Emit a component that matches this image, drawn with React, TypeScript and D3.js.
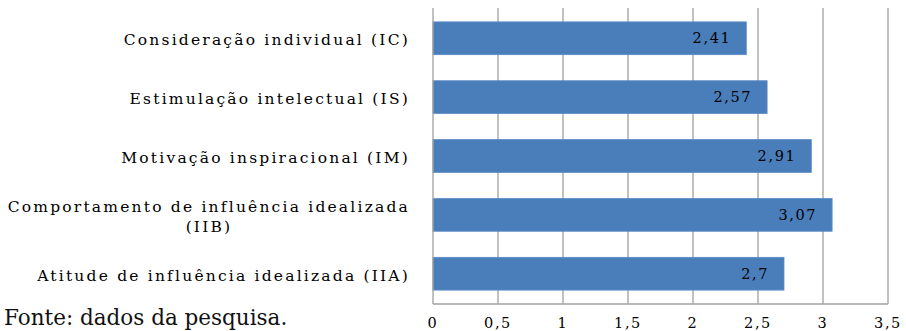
import React from "react";
import * as d3 from "d3";

const categories: string[][] = [
  ["Consideração individual (IC)"],
  ["Estimulação intelectual (IS)"],
  ["Motivação inspiracional (IM)"],
  ["Comportamento de influência idealizada", "(IIB)"],
  ["Atitude de influência idealizada (IIA)"],
];
const values: number[] = [2.41, 2.57, 2.91, 3.07, 2.7];
const xTicks: number[] = [0, 0.5, 1, 1.5, 2, 2.5, 3, 3.5];
const sourceNote = "Fonte: dados da pesquisa.";

const W = 906;
const H = 331;
const left = 433;
const right = 888;
const top = 8;
const bottom = 304;

const labelFont = "'DejaVu Serif', serif";

export default function App() {
  const keys = categories.map((c) => c.join(" "));
  const x = d3.scaleLinear().domain([0, 3.5]).range([left, right]);
  const y = d3
    .scaleBand<string>()
    .domain(keys)
    .range([top, bottom])
    .paddingInner(0.443)
    .paddingOuter(0.236);
  const fmt = (v: number) => String(v).replace(".", ",");

  return (
    <svg
      width={W}
      height={H}
      style={{ position: "absolute", left: 0, top: 0, background: "#fff" }}
    >
      {/* gridlines */}
      {xTicks.slice(1).map((t) => (
        <line
          key={"g" + t}
          x1={x(t)}
          x2={x(t)}
          y1={top}
          y2={bottom}
          stroke="#a0a0a0"
          strokeWidth={1.3}
        />
      ))}
      {/* bars */}
      {values.map((v, i) => (
        <rect
          key={"b" + i}
          x={x(0)}
          y={y(keys[i])}
          width={x(v) - x(0)}
          height={y.bandwidth()}
          fill="#4a7ebb"
          stroke="#5b8cc8"
          strokeWidth={0.8}
        />
      ))}
      {/* axes */}
      <line x1={left} x2={left} y1={top} y2={bottom} stroke="#a0a0a0" strokeWidth={1.3} />
      <line x1={left} x2={right} y1={bottom} y2={bottom} stroke="#a0a0a0" strokeWidth={1.3} />
      {/* value labels */}
      {values.map((v, i) => (
        <text
          key={"v" + i}
          x={x(v) - 15}
          y={(y(keys[i]) as number) + y.bandwidth() / 2}
          textAnchor="end"
          dominantBaseline="central"
          fontFamily={labelFont}
          fontSize={14.5}
          letterSpacing={1.6}
          fill="#000"
        >
          {fmt(v)}
        </text>
      ))}
      {/* category labels */}
      {categories.map((lines, i) => {
        const cy = (y(keys[i]) as number) + y.bandwidth() / 2 + 2;
        const n = lines.length;
        return lines.map((ln, j) => (
          <text
            key={"c" + i + "-" + j}
            x={n > 1 && j > 0 ? 209 : 410}
            y={cy + (j - (n - 1) / 2) * 20}
            textAnchor={n > 1 && j > 0 ? "middle" : "end"}
            dominantBaseline="central"
            fontFamily={labelFont}
            fontSize={15.5}
            letterSpacing={2.2}
            fill="#000"
          >
            {ln}
          </text>
        ));
      })}
      {/* x tick labels */}
      {xTicks.map((t) => (
        <text
          key={"t" + t}
          x={x(t)}
          y={323}
          textAnchor="middle"
          dominantBaseline="central"
          fontFamily={labelFont}
          fontSize={14.5}
          letterSpacing={1.6}
          fill="#000"
        >
          {fmt(t)}
        </text>
      ))}
      {/* source */}
      <text
        x={4}
        y={317}
        dominantBaseline="central"
        fontFamily="'DejaVu Serif', serif"
        fontSize={21.5}
        fill="#111"
      >
        {sourceNote}
      </text>
    </svg>
  );
}
